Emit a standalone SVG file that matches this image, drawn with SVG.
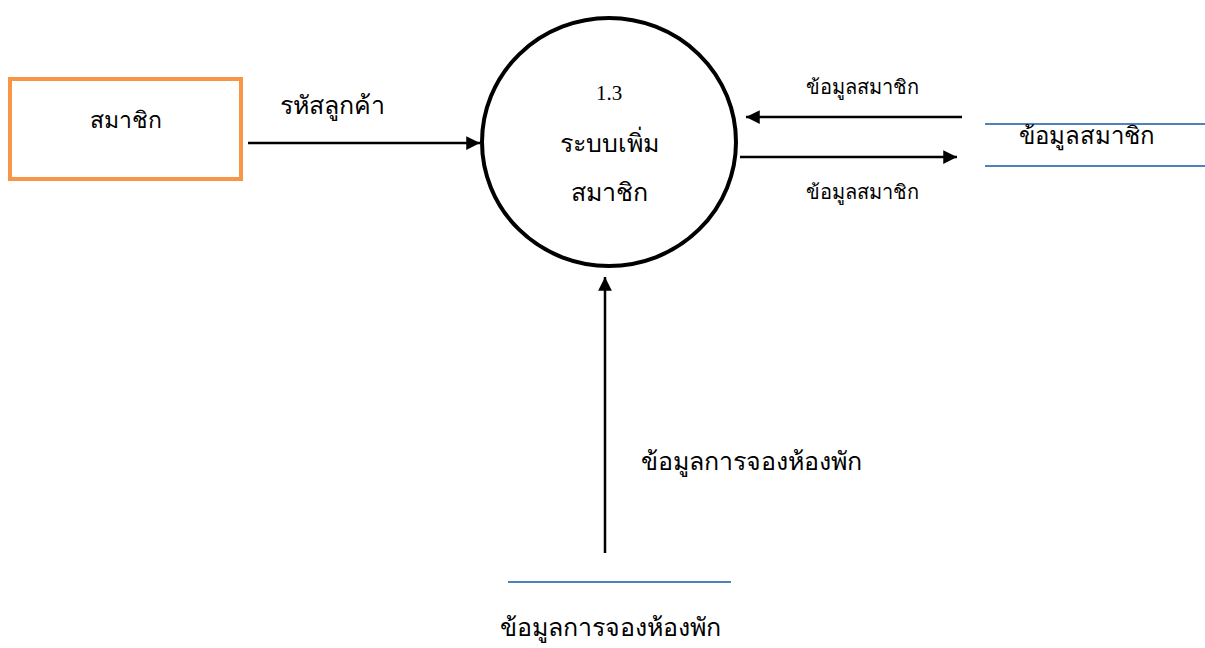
<svg xmlns="http://www.w3.org/2000/svg" width="1205" height="648" viewBox="0 0 1205 648">
<style>
.sans{font-family:"Liberation Sans","Noto Sans",sans-serif;fill:#000;font-weight:normal}
.serif{font-family:"Liberation Serif","DejaVu Serif",serif;fill:#000;font-weight:normal}
.flow{stroke:#000;stroke-width:2.5;fill:none}
.store{stroke:#4F81BD;stroke-width:2;fill:none}
</style>
<defs>
<marker id="ah" viewBox="0 0 10 10" refX="10" refY="5" markerWidth="5.5" markerHeight="5.5" orient="auto" markerUnits="strokeWidth">
<path d="M0,0 L10,5 L0,10 z" fill="#000"/>
</marker>
</defs>
<rect width="1205" height="648" fill="#fff"/>
<g id="member">
<rect x="10" y="79" width="231" height="100" fill="#fff" stroke="#F79646" stroke-width="4"/>
<text class="sans" x="126" y="128" font-size="23" text-anchor="middle">สมาชิก</text>
</g>
<g id="process">
<ellipse cx="609" cy="142" rx="127" ry="124" fill="#fff" stroke="#000" stroke-width="4"/>
<text class="serif" x="609" y="100" font-size="21" text-anchor="middle">1.3</text>
<text class="serif" x="609" y="152" font-size="25" text-anchor="middle">ระบบเพิ่ม</text>
<text class="serif" x="609" y="201" font-size="25" text-anchor="middle">สมาชิก</text>
</g>
<g id="store-member">
<line class="store" x1="985" y1="124" x2="1205" y2="124"/>
<line class="store" x1="985" y1="166" x2="1205" y2="166"/>
<text class="sans" x="1087" y="144" font-size="24" text-anchor="middle">ข้อมูลสมาชิก</text>
</g>
<g id="store-booking">
<line class="store" x1="508" y1="582" x2="731" y2="582"/>
<text class="sans" x="610" y="636" font-size="25" text-anchor="middle">ข้อมูลการจองห้องพัก</text>
</g>
<g id="connectors">
<line class="flow" x1="248" y1="143" x2="480" y2="143" marker-end="url(#ah)"/>
<text class="sans" x="332" y="114" font-size="25" text-anchor="middle">รหัสลูกค้า</text>
<line class="flow" x1="962" y1="117" x2="746" y2="117" marker-end="url(#ah)"/>
<text class="sans" x="862" y="94" font-size="20" text-anchor="middle">ข้อมูลสมาชิก</text>
<line class="flow" x1="740" y1="157" x2="957" y2="157" marker-end="url(#ah)"/>
<text class="sans" x="862" y="199" font-size="20" text-anchor="middle">ข้อมูลสมาชิก</text>
<line class="flow" x1="605" y1="553" x2="605" y2="277" marker-end="url(#ah)"/>
<text class="sans" x="751" y="470" font-size="25" text-anchor="middle">ข้อมูลการจองห้องพัก</text>
</g>
</svg>
